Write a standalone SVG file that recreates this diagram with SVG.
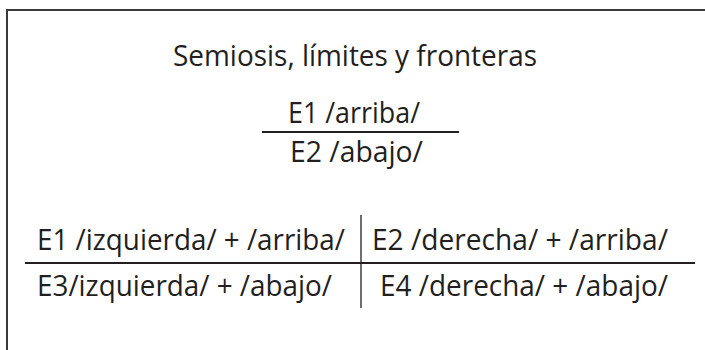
<svg xmlns="http://www.w3.org/2000/svg" width="705" height="350" viewBox="0 0 705 350">
<style>
text{font-family:"Open Sans","Noto Sans","Liberation Sans",sans-serif;font-size:29px;fill:#231f20}
.ln{stroke:#3a3a3a;stroke-width:2;fill:none}
.thin{stroke:#231f20;stroke-width:2;fill:none}
.vt{stroke:#231f20;stroke-width:1.3;fill:none}
</style>
<rect width="705" height="350" fill="#fff"/>
<g id="frame">
<line class="ln" x1="7" y1="10" x2="705" y2="10"/>
<line class="ln" x1="7" y1="9" x2="7" y2="350"/>
</g>
<g id="title"><text x="355" y="66" text-anchor="middle" textLength="364" lengthAdjust="spacingAndGlyphs">Semiosis, límites y fronteras</text></g>
<g id="fraction">
<text id="e1" x="288" y="123" textLength="132" lengthAdjust="spacingAndGlyphs">E1 /arriba/</text>
<text id="e2" x="290" y="162" textLength="133" lengthAdjust="spacingAndGlyphs">E2 /abajo/</text>
</g>
<g id="table">
<text id="c1" x="37" y="250" textLength="308" lengthAdjust="spacingAndGlyphs">E1 /izquierda/ + /arriba/</text>
<text id="c2" x="372" y="250" textLength="296" lengthAdjust="spacingAndGlyphs">E2 /derecha/ + /arriba/</text>
<text id="c3" x="37" y="296" textLength="295" lengthAdjust="spacingAndGlyphs">E3/izquierda/ + /abajo/</text>
<text id="c4" x="380" y="296" textLength="288" lengthAdjust="spacingAndGlyphs">E4 /derecha/ + /abajo/</text>
</g>
<g id="connectors">
<line class="thin" x1="262" y1="132" x2="459" y2="132"/>
<line class="thin" x1="25" y1="263" x2="695" y2="263"/>
<line class="vt" x1="361" y1="215" x2="361" y2="308"/>
</g>
</svg>
